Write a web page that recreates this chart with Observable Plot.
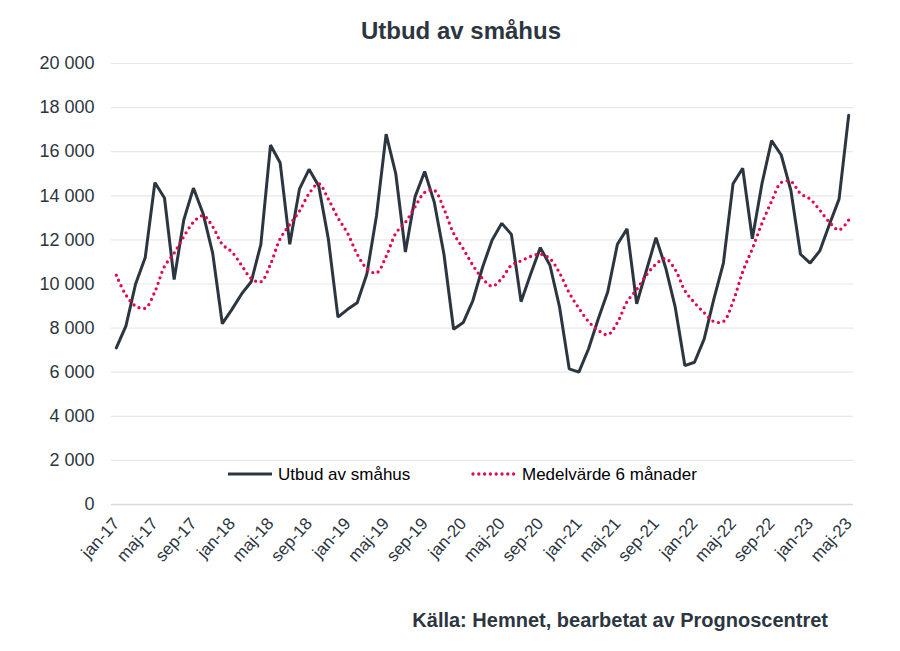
<!DOCTYPE html>
<html>
<head>
<meta charset="utf-8">
<script src="https://cdn.jsdelivr.net/npm/d3@7"></script>
<script src="https://cdn.jsdelivr.net/npm/@observablehq/plot@0.6"></script>
<style>
  html, body { margin: 0; padding: 0; background: #ffffff; }
  #chart { width: 900px; height: 651px; }
  svg { overflow: visible; }
</style>
</head>
<body>
<div id="chart"></div>
<script>
const months = [
  "jan-17","feb-17","mar-17","apr-17","maj-17","jun-17","jul-17","aug-17","sep-17","okt-17","nov-17","dec-17",
  "jan-18","feb-18","mar-18","apr-18","maj-18","jun-18","jul-18","aug-18","sep-18","okt-18","nov-18","dec-18",
  "jan-19","feb-19","mar-19","apr-19","maj-19","jun-19","jul-19","aug-19","sep-19","okt-19","nov-19","dec-19",
  "jan-20","feb-20","mar-20","apr-20","maj-20","jun-20","jul-20","aug-20","sep-20","okt-20","nov-20","dec-20",
  "jan-21","feb-21","mar-21","apr-21","maj-21","jun-21","jul-21","aug-21","sep-21","okt-21","nov-21","dec-21",
  "jan-22","feb-22","mar-22","apr-22","maj-22","jun-22","jul-22","aug-22","sep-22","okt-22","nov-22","dec-22",
  "jan-23","feb-23","mar-23","apr-23","maj-23"
];
const xTickLabels = ["jan-17","maj-17","sep-17","jan-18","maj-18","sep-18","jan-19","maj-19","sep-19",
  "jan-20","maj-20","sep-20","jan-21","maj-21","sep-21","jan-22","maj-22","sep-22","jan-23","maj-23"];
const yTicks = [0, 2000, 4000, 6000, 8000, 10000, 12000, 14000, 16000, 18000, 20000];

const utbud = [
  7100, 8100, 10000, 11200, 14600, 13900, 10200, 12900, 14350, 13200, 11400, 8200,
  8850, 9550, 10100, 11800, 16300, 15500, 11800, 14300, 15200, 14450, 12050, 8500,
  8850, 9150, 10450, 13100, 16800, 15000, 11450, 13950, 15100, 13700, 11350, 7950,
  8250, 9250, 10750, 12000, 12750, 12250, 9200, 10450, 11650, 10850, 8950, 6150,
  6000, 7050, 8400, 9650, 11800, 12500, 9100, 10600, 12100, 10750, 8950, 6300,
  6450, 7500, 9300, 10950, 14550, 15250, 12050, 14550, 16500, 15850, 14250, 11350,
  10950, 11500, 12700, 13850, 17650
];
const medel6 = [
  10400, 9500, 9000, 8900, 9650, 10800, 11400, 12150, 12800, 13100, 12600, 11800,
  11450, 10850, 10250, 10100, 10900, 12050, 12700, 13300, 14100, 14550, 13850, 13000,
  12300, 11350, 10700, 10500, 11250, 12300, 12800, 13500, 14150, 14250, 13400, 12300,
  11600, 10850, 10250, 9900, 10250, 10850, 11050, 11250, 11350, 11150, 10500, 9600,
  8900, 8300, 7900, 7700, 8250, 9200, 9750, 10400, 10900, 11150, 10650, 9700,
  9150, 8700, 8300, 8300, 9200, 10550, 11600, 12750, 13750, 14600, 14650, 14100,
  13850, 13350, 12800, 12450, 12900
];

const seriesA = months.map((m, i) => ({i, m, v: utbud[i]}));
const seriesB = months.map((m, i) => ({i, m, v: medel6[i]}));
const xTicks = xTickLabels.map(l => months.indexOf(l));

const textColor = "#2c3640";
const lineColor = "#2c3640";
const dotColor = "#e0094f";
const fmt = d => d3.format(",")(d).replace(/,/g, " ");

const chart = Plot.plot({
  width: 900,
  height: 651,
  marginLeft: 111,
  marginRight: 47,
  marginTop: 63,
  marginBottom: 147,
  style: {fontFamily: "'Liberation Sans', Arial, sans-serif", color: textColor, background: "#ffffff"},
  x: {type: "linear", domain: [-0.5, months.length - 0.5]},
  y: {domain: [0, 20000]},
  marks: [
    Plot.gridY(yTicks.filter(d => d > 0), {stroke: "#e8e8e8", strokeOpacity: 1, strokeWidth: 1.2}),
    Plot.ruleY([0], {stroke: "#d9d9d9", strokeWidth: 1.3}),
    Plot.axisY(yTicks, {tickSize: 0, tickPadding: 17, fontSize: 18, tickFormat: fmt, label: null}),
    Plot.axisX(xTicks, {tickSize: 0, tickPadding: 16, tickRotate: -48, fontSize: 17,
      tickFormat: i => months[i], label: null}),
    Plot.lineY(seriesA, {x: "i", y: "v", stroke: lineColor, strokeWidth: 3, strokeLinejoin: "miter"}),
    Plot.lineY(seriesB, {x: "i", y: "v", stroke: dotColor, strokeWidth: 3.3,
      strokeDasharray: "0 5.8", strokeLinecap: "round", curve: "catmull-rom"})
  ]
});

document.getElementById("chart").appendChild(chart);

const svg = d3.select(chart);
const font = "'Liberation Sans', Arial, sans-serif";
// title
svg.append("text").attr("x", 461).attr("y", 39).attr("text-anchor", "middle")
  .attr("font-family", font).attr("font-size", 24).attr("font-weight", "bold")
  .attr("fill", textColor).text("Utbud av småhus");
// source
svg.append("text").attr("x", 828).attr("y", 627).attr("text-anchor", "end")
  .attr("font-family", font).attr("font-size", 20).attr("font-weight", "bold")
  .attr("fill", textColor).text("Källa: Hemnet, bearbetat av Prognoscentret");
// legend
const lg = svg.append("g").attr("text-anchor", "start");
lg.append("line").attr("x1", 228).attr("x2", 272).attr("y1", 474).attr("y2", 474)
  .attr("stroke", lineColor).attr("stroke-width", 3);
lg.append("text").attr("x", 278).attr("y", 480).attr("text-anchor", "start")
  .attr("font-family", font).attr("font-size", 17)
  .attr("fill", "#000").text("Utbud av småhus");
lg.append("line").attr("x1", 473).attr("x2", 515).attr("y1", 474).attr("y2", 474)
  .attr("stroke", dotColor).attr("stroke-width", 3.3).attr("stroke-dasharray", "0 5.8")
  .attr("stroke-linecap", "round");
lg.append("text").attr("x", 522).attr("y", 480).attr("text-anchor", "start")
  .attr("font-family", font).attr("font-size", 17)
  .attr("fill", "#000").text("Medelvärde 6 månader");
</script>
</body>
</html>
